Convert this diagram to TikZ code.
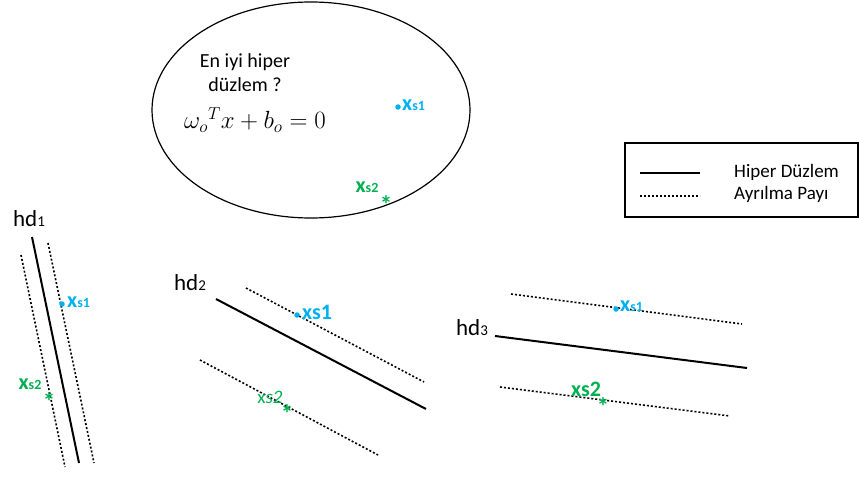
\documentclass[tikz,border=0pt]{standalone}
\usepackage{fontspec}
\setmainfont{Carlito}
\usetikzlibrary{shapes.geometric}
\usepackage{xcolor}
\definecolor{xsblue}{RGB}{0,176,240}
\definecolor{xsgreen}{RGB}{0,176,80}
\newcommand{\hyper}[7] {
    \coordinate (#1a) at (#2);
    \coordinate (#1b) at (#3);
    \coordinate (#1ua) at (#4);
    \coordinate (#1ub) at (#5);
    \coordinate (#1la) at (#6);
    \coordinate (#1lb) at (#7);
    \draw[hdline] (#1a) -- (#1b);
    \draw[margin] (#1ua) -- (#1ub);
    \draw[margin] (#1la) -- (#1lb);
}
\newcommand{\xsone}[1] {{\bfseries x{\fontsize{#1}{#1}\selectfont s1}}}
\newcommand{\xstwo}[1] {{\bfseries x{\fontsize{#1}{#1}\selectfont s2}}}
\begin{document}
\begin{tikzpicture}[x=1pt,y=-1pt]
    \tikzset{
        hdline/.style={line width=2pt},
        margin/.style={dash pattern=on 2pt off 2pt,line width=1.6pt},
        txt/.style={font=\fontsize{20}{24}\selectfont,inner sep=0pt,align=center},
        hdlabel/.style={font=\fontsize{23}{23}\selectfont,inner sep=0pt},
        sone/.style={text=xsblue,font=\fontsize{22}{22}\selectfont,inner sep=0pt,anchor=west},
        stwo/.style={text=xsgreen,font=\fontsize{22}{22}\selectfont,inner sep=0pt},
        dotpt/.style={circle,fill=xsblue,inner sep=0pt,minimum size=5.5pt},
        starpt/.style={text=xsgreen,font=\fontsize{25}{25}\selectfont\bfseries,inner sep=0pt}
    }
    \useasboundingbox (0,0) rectangle (859,479);
    % soru
    \node[draw,ellipse,line width=1.2pt,minimum width=318,minimum height=216] (cloud) at (311,110) {};
    \node[txt] (question) at (245,73) {En iyi hiper\\düzlem ?};
    \node[inner sep=0pt,font=\fontsize{24}{24}\selectfont] (eq) at (255,120) {$\omega_o{}^T x + b_o = 0$};
    \node[dotpt] (c1) at (398,107) {};
    \node[sone] (c1t) at (402,105) {\xsone{14}};
    \node[stwo] (c2t) at (367,187) {\xstwo{14}};
    \node[starpt] (c2) at (386,205) {*};
    % lejant
    \node[draw,line width=1.4pt,minimum width=233,minimum height=74,inner sep=0pt] (legend) at (741.5,180) {};
    \coordinate (leg1a) at (640,173);
    \coordinate (leg1b) at (700,173);
    \coordinate (leg2a) at (640,196);
    \coordinate (leg2b) at (700,196);
    \draw[hdline] (leg1a) -- (leg1b);
    \draw[margin] (leg2a) -- (leg2b);
    \node[txt,anchor=west,font=\fontsize{19}{19}\selectfont] (leg1t) at (734,172) {Hiper Düzlem};
    \node[txt,anchor=west,font=\fontsize{19}{19}\selectfont] (leg2t) at (734,194) {Ayrılma Payı};
    % hd1
    \hyper{h1}{32,237}{79,463}{48,243}{94,463}{21,255}{65,467}
    \node[hdlabel] (h1t) at (29,219) {hd{\fontsize{15}{15}\selectfont 1}};
    \node[dotpt] (p11) at (62,304) {};
    \node[sone] (p11t) at (67,302) {\xsone{14}};
    \node[stwo] (p12t) at (30,384) {\xstwo{14}};
    \node[starpt] (p12) at (49,402) {*};
    % hd2
    \hyper{h2}{216,299}{426,409}{246,288}{424,382}{200,360}{378,455}
    \node[hdlabel] (h2t) at (190,283) {hd{\fontsize{15}{15}\selectfont 2}};
    \node[dotpt] (p21) at (297,315) {};
    \node[sone] (p21t) at (302,312) {\bfseries xs1};
    \node[stwo,font=\fontsize{19}{19}\selectfont] (p22t) at (270,397) {x\textit{s2}};
    \node[starpt] (p22) at (287,414) {*};
    % hd3
    \hyper{h3}{495,336}{747,368}{511,294}{742,324}{500,387}{730,416}
    \node[hdlabel] (h3t) at (472,328) {hd{\fontsize{15}{15}\selectfont 3}};
    \node[dotpt] (p31) at (616,309) {};
    \node[sone] (p31t) at (620,306) {\xsone{14}};
    \node[stwo] (p32t) at (586,389) {\bfseries xs2};
    \node[starpt] (p32) at (603,407) {*};
\end{tikzpicture}
\end{document}
